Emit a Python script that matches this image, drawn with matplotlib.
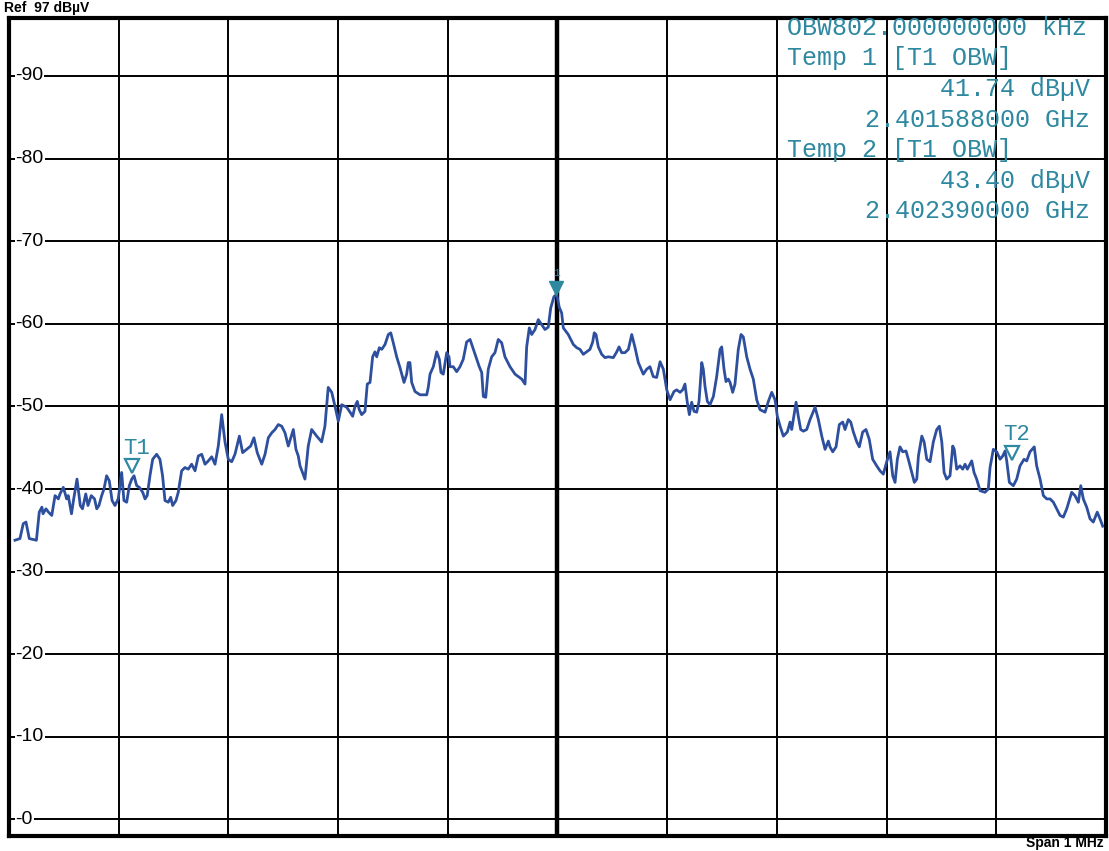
import numpy as np
import matplotlib.pyplot as plt
from matplotlib.transforms import offset_copy

# sweep: 1 MHz span, frequency given as offset (kHz) from start
F_START_GHZ = 2.401478
SPAN_KHZ = 1000
REF_LEVEL = 97
Y_BOTTOM = -2

f_khz = [5.5, 10, 13, 15.5, 18.5, 25, 27.6, 30, 31, 33.7, 36, 39, 42, 45, 46.5, 49.5,
         52.6, 54, 57, 59, 62, 65, 67, 70, 72, 75, 78, 80, 82, 84.5, 86.6, 89, 91.4, 94,
         96.6, 99.6, 102.7, 104.8, 107.3, 109.7, 111.9, 114, 116.4, 118.8, 121.9, 124, 126,
         128.5, 131, 134.6, 137.6, 140, 142.2, 145.2, 147.4, 149.2, 152.2, 154.3, 157.4,
         160.4, 163.4, 166.5, 169.6, 172.6, 175.7, 178.7, 181.7, 184.8, 187.8, 190.8, 193.9,
         196.9, 199.9, 203, 206, 210, 213, 216.7, 220.3, 223.3, 226.3, 230.4, 233.4, 236.4,
         239.5, 242.5, 245.5, 248.6, 251.6, 254.6, 259.2, 261.6, 263.7, 265.3, 269.8, 272.8,
         275.9, 280.5, 285, 288, 291, 294.2, 297.2, 300.2, 303.3, 307.8, 310.9, 313.3, 315.4,
         317.5, 319.3, 321.5, 324.5, 326.6, 329.1, 331.5, 333.6, 335.2, 337.6, 339.8, 342.8,
         345.8, 348, 350.3, 353.4, 356.4, 360.1, 362.5, 364, 365.5, 367.1, 370.1, 374.7,
         380.8, 382.2, 383.8, 386.8, 389.9, 392.3, 393.8, 395.9, 399, 401.1, 402, 405, 408.1,
         411.1, 414.1, 417.2, 420.3, 423.3, 426.4, 428.7, 430.9, 432.4, 434.6, 436.9, 440,
         443, 446, 449.1, 452.1, 456.7, 461.3, 464.3, 467.4, 470.4, 471.9, 474.3, 476.5,
         479.5, 482.5, 485.6, 488.6, 491.6, 493.8, 496.8, 499.3, 501.6, 503.8, 505.3, 509.8,
         514.4, 517.5, 520.5, 523.5, 526.6, 529.6, 532.1, 533.5, 535.1, 537.2, 540.3, 543.3,
         546.3, 550.9, 554, 556.1, 558.5, 561.5, 564.6, 567.7, 570.7, 573.7, 578.2, 581.3,
         584.3, 587.3, 590.4, 593.5, 596.5, 599.6, 602.6, 606.2, 608.7, 611.7, 614.1, 616.2,
         618.3, 620.2, 622.3, 624.5, 626.9, 629, 631.5, 632.9, 634.5, 636.6, 639, 642.1,
         645.1, 648.2, 649.7, 651.8, 653.6, 655.7, 657.3, 659.7, 661.8, 664.8, 667.3, 669.4,
         672.5, 675.5, 678.5, 681.6, 684.6, 689.2, 692.2, 695.3, 698.3, 700.4, 702.9, 705.9,
         709.5, 712, 713.5, 717.5, 719.5, 721.7, 724.1, 727.2, 730.2, 734.8, 737.8, 740.9,
         743.9, 746.9, 748.4, 750.9, 753.9, 756.9, 760, 762.1, 765.1, 767.3, 769.7, 772.8,
         775.1, 778.2, 781.2, 784.2, 787.3, 791, 794, 797, 800.1, 803.1, 805.6, 807.7, 809.8,
         812.2, 814.7, 817.7, 819.8, 822.9, 825.3, 827.5, 829, 832.1, 834.2, 836.6, 839.6,
         842.6, 845.7, 848.1, 850.3, 852.4, 854.8, 857.8, 860.3, 861.7, 863.9, 866.9, 869.4,
         871.5, 873.6, 877.6, 879.7, 882.1, 885.2, 889.7, 892.7, 894.3, 897.3, 900.4, 903.4,
         905.9, 908, 909.5, 911.9, 915.5, 918.6, 921.6, 925.3, 927.7, 930.7, 934.6, 936.8,
         939.9, 942.9, 946, 949, 952, 955.1, 958.1, 961.1, 964.2, 968.7, 971.7, 974.8, 977,
         979.3, 982.4, 985.4, 988.4, 992, 994.5, 997]

level_dbuv = [33.8, 34, 35.8, 36, 34, 33.8, 37.2, 37.8, 37, 37.6, 37.2, 36.8, 39.2, 38.8, 39.4,
              40.2, 38.8, 39.2, 37, 38.8, 41.2, 38, 37.6, 39.4, 38, 39.2, 38.8, 37.6, 38, 39.2,
              40, 41.6, 41, 38.6, 38, 38.8, 42, 38.6, 38.4, 40.4, 41.2, 41.6, 40.4, 40.2, 39.6,
              38.8, 39.2, 41.6, 43.6, 44.2, 43.6, 41.6, 38.6, 38.4, 39, 38, 38.6, 39.6, 42.2,
              42.6, 42.4, 43, 42.2, 44, 44.2, 43, 43.4, 43.9, 43, 45.2, 49, 45.7, 43.6, 43.3,
              44.2, 46.4, 44.4, 44.8, 45.2, 46.2, 44.4, 43, 44.2, 46.2, 46.8, 47.2, 47.8, 47.6,
              46.8, 45.2, 47.2, 44.8, 44, 42.8, 41.2, 45.2, 47.2, 46.4, 45.7, 47.6, 52.3, 51.7,
              50, 48.2, 50.2, 49.9, 49.3, 48.8, 50, 50.6, 49.6, 49, 49.4, 52.7, 52.9, 56, 56.6,
              56, 57.1, 56.9, 57.5, 58.7, 58.9, 57.7, 56, 54.7, 52.9, 53.9, 55.3, 55.3, 52.9,
              51.8, 51.4, 51.4, 52.3, 53.9, 54.8, 56.6, 55.7, 54.1, 53.9, 56.5, 56, 54.8, 54.8,
              54.2, 54.8, 55.7, 57.8, 58.1, 56.9, 55.7, 54.8, 54.1, 51.2, 51.1, 54.5, 56, 56.5,
              58.1, 57.7, 56, 54.8, 53.9, 53.6, 53.3, 52.7, 57.2, 59.5, 58.7, 59.3, 60.5, 59.9,
              59.3, 59.6, 61.9, 63.3, 63.5, 62, 61.3, 59.5, 58.7, 57.5, 57.1, 56.9, 56.3, 56.6,
              56.9, 57.8, 58.9, 58.7, 57.2, 56.3, 55.9, 56, 55.9, 56.6, 57.2, 56.5, 56.5, 56.9,
              58.7, 57.1, 55.3, 53.9, 54.5, 54.8, 53.6, 53.5, 55.4, 54.5, 52, 50.8, 51.8, 52,
              51.7, 52, 52.7, 50.5, 49, 50.5, 49.4, 49.3, 50.6, 55.3, 54.5, 52.4, 50.6, 50.2,
              51.2, 53.6, 56.9, 57.2, 54.5, 53, 53.3, 52.9, 51.7, 52.7, 56.9, 58.7, 58.4, 56,
              54.5, 53.3, 50.8, 49.6, 49.3, 50.6, 51.7, 50.8, 48.8, 47.6, 46.4, 46.9, 48.1, 47.2,
              50.5, 48.8, 47.2, 47, 47.2, 48.4, 49.9, 48.4, 46.4, 44.8, 45.8, 45.1, 44.5, 45.1,
              47.8, 48.1, 47.2, 48.4, 48.1, 46.9, 45.7, 45.1, 46.9, 47.2, 46, 43.6, 42.8, 42.2,
              41.8, 43.3, 44.5, 41.6, 40.8, 43.6, 45.1, 44.5, 44.6, 43.6, 42, 40.8, 41.2, 44,
              46.4, 45.7, 43.6, 43.3, 45.7, 47.2, 47.6, 45.7, 42, 41.2, 41.6, 45.2, 44.8, 42.4,
              42.8, 42.4, 43, 42.4, 43.4, 42, 41.2, 39.8, 39.6, 40, 42.6, 44.8, 44.5, 43.6, 44,
              44.6, 43.4, 40.8, 40.4, 41.2, 42.8, 43.6, 43.4, 44.5, 45.1, 42.8, 41.2, 39.2, 38.8,
              38.8, 38.4, 37.6, 36.8, 36.6, 37.6, 39.6, 39.2, 38.4, 40.4, 38.8, 37.8, 36.4, 36,
              37.2, 36.4, 35.5]

# markers
marker_names = ["T1", "T2"]
marker_ghz = [2.401588, 2.402390]
marker_dbuv = [41.74, 43.40]
peak_ghz = 2.401977
peak_dbuv = 63.5

y_ticks = [0, 10, 20, 30, 40, 50, 60, 70, 80, 90]
info_lines = [
    ("OBW802.000000000 kHz", "left"),
    ("Temp 1 [T1 OBW]", "left"),
    ("41.74 dBµV", "right"),
    ("2.401588000 GHz", "right"),
    ("Temp 2 [T1 OBW]", "left"),
    ("43.40 dBµV", "right"),
    ("2.402390000 GHz", "right"),
]

TRACE = "#2d4f9e"
TEAL = "#2e88a0"

fig = plt.figure(figsize=(11.09, 8.51), dpi=100)
ax = fig.add_axes([0.0081, 0.0176, 0.9892, 0.9612])

ax.set_xlim(0, SPAN_KHZ)
ax.set_ylim(Y_BOTTOM, REF_LEVEL)
ax.set_xticks(np.linspace(0, SPAN_KHZ, 11))
ax.set_yticks(y_ticks)
ax.grid(True, color="black", lw=1.4)
ax.tick_params(length=0, labelleft=False, labelbottom=False)
ax.axvline(SPAN_KHZ / 2, color="black", lw=3.2)
for sp in ax.spines.values():
    sp.set_linewidth(3)

for v in y_ticks:
    ax.text(0.006, v, "-" + str(v), transform=ax.get_yaxis_transform(),
            fontsize=14, family="Liberation Sans", va="center", ha="left",
            bbox=dict(facecolor="white", edgecolor="none", pad=0.5), zorder=3)

ax.plot(f_khz, level_dbuv, color=TRACE, lw=2.0, zorder=4)

# T markers: hollow triangles above the trace point
up = offset_copy(ax.transData, fig=fig, x=2, y=6, units="points")
lab = offset_copy(ax.transData, fig=fig, x=5, y=19, units="points")
for name, g, lv in zip(marker_names, marker_ghz, marker_dbuv):
    fx = (g - F_START_GHZ) * 1e6
    ax.plot(fx, lv, marker="v", ms=10, mfc="white", mec=TEAL, mew=1.6,
            transform=up, zorder=5, clip_on=False)
    ax.text(fx, lv, name, transform=lab, color=TEAL, fontsize=16,
            family="Liberation Mono", ha="center", va="center", zorder=5)

# peak marker 1
px = (peak_ghz - F_START_GHZ) * 1e6
up1 = offset_copy(ax.transData, fig=fig, x=0, y=5, units="points")
lab1 = offset_copy(ax.transData, fig=fig, x=0, y=16, units="points")
ax.plot(px, peak_dbuv, marker="v", ms=10, color=TEAL, transform=up1, zorder=6)
ax.text(px, peak_dbuv, "1", transform=lab1, color=TEAL, fontsize=8,
        family="Liberation Mono", ha="center", va="center", zorder=6)

# info block top right
y0, dy = 0.988, 0.0374
for i, (s, al) in enumerate(info_lines):
    xx = 0.7092 if al == "left" else 0.9854
    ax.text(xx, y0 - i * dy, s, transform=ax.transAxes, color=TEAL, fontsize=18,
            family="Liberation Mono", ha=al, va="center", zorder=5)

# header/footer text in the narrow page margins
fig.text(0.004, 0.999, "Ref  97 dBµV", fontsize=10, fontweight="bold",
         family="Liberation Sans", va="top", ha="left")
fig.text(0.995, 0.001, "Span 1 MHz", fontsize=10, fontweight="bold",
         family="Liberation Sans", va="bottom", ha="right")

fig.savefig("out.png", dpi=100, facecolor="white")
